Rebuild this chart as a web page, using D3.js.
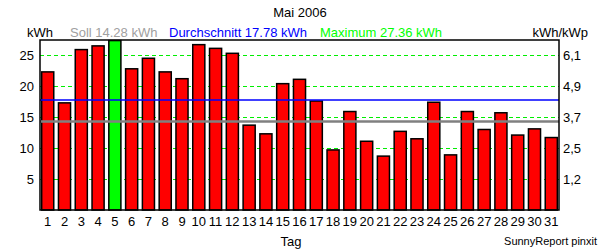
<!DOCTYPE html>
<html>
<head>
<meta charset="utf-8">
<script src="https://cdn.jsdelivr.net/npm/d3@7"></script>
<style>
  body { margin: 0; background: #fff; }
  svg text { font-family: "Liberation Sans", Arial, sans-serif; }
</style>
</head>
<body>
<svg width="600" height="250"></svg>
<script>
// daily yield, Mai 2006
var days = d3.range(1, 32);
var kwh = [22.3, 17.3, 25.9, 26.5, 27.36, 22.8, 24.5, 22.3, 21.2, 26.7,
           26.1, 25.3, 13.7, 12.3, 20.4, 21.1, 17.6, 9.7, 15.9, 11.1,
           8.7, 12.7, 11.5, 17.4, 8.9, 15.9, 13.0, 15.7, 12.1, 13.1, 11.7];
var leftTicks = [5, 10, 15, 20, 25];
var rightTickLabels = ["1,2", "2,5", "3,7", "4,9", "6,1"];
var soll = 14.28, avg = 17.78, maxVal = 27.36;

var svg = d3.select("svg");
var plotL = 40, plotR = 559, plotT = 40, plotB = 210;

var x = d3.scaleBand().domain(days).range([plotL, plotR])
    .paddingInner(0.28).paddingOuter(0.1);
var y = d3.scaleLinear().domain([0, 27.45]).range([plotB, plotT]);

// grid
svg.selectAll("line.grid").data(leftTicks).enter()
  .append("line")
    .attr("class", "grid")
    .attr("x1", plotL).attr("x2", plotR)
    .attr("y1", function(d){ return Math.round(y(d)) + 0.5; })
    .attr("y2", function(d){ return Math.round(y(d)) + 0.5; })
    .style("stroke", "#00ee00")
    .style("stroke-dasharray", "4,3");

// bars
svg.selectAll("rect.bar").data(kwh).enter()
  .append("rect")
    .attr("class", "bar")
    .attr("x", function(d, i){ return x(days[i]); })
    .attr("width", x.bandwidth())
    .attr("y", function(d){ return y(d); })
    .attr("height", function(d){ return plotB - y(d); })
    .style("fill", function(d){ return d === maxVal ? "#00ff00" : "#ff0000"; })
    .style("stroke", "#000")
    .style("stroke-width", 1.5);

// Soll + Durchschnitt lines
svg.append("line")
    .attr("x1", plotL).attr("x2", plotR)
    .attr("y1", y(soll)).attr("y2", y(soll))
    .style("stroke", "#808080").style("stroke-width", 2.5);
svg.append("line")
    .attr("x1", plotL).attr("x2", plotR)
    .attr("y1", y(avg)).attr("y2", y(avg))
    .style("stroke", "#0000ff").style("stroke-width", 1.5);

// frame
svg.append("rect")
    .attr("x", plotL).attr("y", plotT)
    .attr("width", plotR - plotL).attr("height", plotB - plotT)
    .style("fill", "none").style("stroke", "#000").style("stroke-width", 1.5);

// axes
var yLeft = svg.append("g")
    .attr("transform", "translate(" + plotL + ",0)")
    .call(d3.axisLeft(y).tickValues(leftTicks).tickSize(0).tickPadding(6));
var yRight = svg.append("g")
    .attr("transform", "translate(" + plotR + ",0)")
    .call(d3.axisRight(y).tickValues(leftTicks).tickSize(0).tickPadding(4)
      .tickFormat(function(d, i){ return rightTickLabels[i]; }));
var xAxis = svg.append("g")
    .attr("transform", "translate(0," + plotB + ")")
    .call(d3.axisBottom(x).tickSize(0).tickPadding(7));
[yLeft, yRight, xAxis].forEach(function(g){
  g.select(".domain").remove();
  g.selectAll("text").style("font-size", "13px").style("fill", "#000")
    .style("font-family", '"Liberation Sans", Arial, sans-serif');
});

// texts
function label(tx, px, py, col, size, anchor) {
  svg.append("text").attr("x", px).attr("y", py)
    .attr("text-anchor", anchor || "start")
    .style("font-size", size + "px").style("fill", col).text(tx);
}
label("Mai 2006", 300, 17, "#000", 13, "middle");
label("kWh", 27, 37, "#000", 13);
label("Soll 14.28 kWh", 70, 37, "#a0a0a0", 13);
label("Durchschnitt 17.78 kWh", 169, 37, "#0000ff", 13);
label("Maximum 27.36 kWh", 320, 37, "#00ff00", 13);
label("kWh/kWp", 588, 37, "#000", 13, "end");
label("Tag", 291, 246, "#000", 13, "middle");
label("SunnyReport pinxit", 597, 245, "#000", 11, "end");
</script>
</body>
</html>
